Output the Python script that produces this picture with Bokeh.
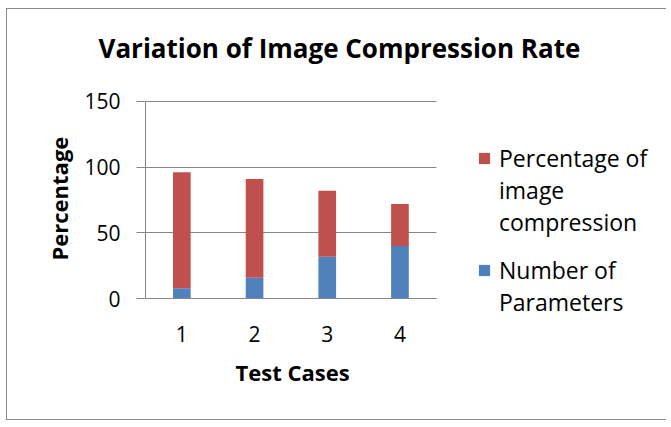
from bokeh.plotting import figure
from bokeh.models import Legend, LegendItem, Title, FixedTicker, Range1d
from bokeh.embed import file_html
from bokeh.resources import INLINE

# ---- data ----
test_cases = [1, 2, 3, 4]
test_case_labels = ["1", "2", "3", "4"]
num_parameters = [8, 16, 32, 40]
pct_compression = [88, 75, 50, 32]
y_ticks = [0, 50, 100, 150]

series = ["num_parameters", "pct_compression"]
colors = ["#4F81BD", "#C0504D"]
data = dict(cases=test_cases, num_parameters=num_parameters, pct_compression=pct_compression)

FONT = "Open Sans"
GRID = "#868686"
cat_lo, cat_hi = test_cases[0] - 0.5, test_cases[-1] + 0.5

p = figure(x_range=Range1d(cat_lo, 7.68), y_range=Range1d(-35.45, 173.3),
           width=660, height=412, output_backend="svg", toolbar_location=None,
           min_border_left=138, min_border_right=0, min_border_top=61, min_border_bottom=76)
p.margin = (8, 0, 0, 6)
p.styles = {"border-left": "1px solid #8a8a8a", "border-top": "1px solid #8a8a8a",
            "border-bottom": "1px solid #8a8a8a"}
p.outline_line_color = None

rs = p.vbar_stack(series, x="cases", width=0.243, color=colors, source=data, line_color=None)
blank = p.scatter(x=[], y=[], alpha=0)

# y axis
p.yaxis.ticker = FixedTicker(ticks=y_ticks)
p.yaxis.bounds = (y_ticks[0], y_ticks[-1])
p.yaxis.axis_line_color = GRID
p.yaxis.major_tick_line_color = GRID
p.yaxis.major_tick_out = 9
p.yaxis.major_tick_in = 0
p.yaxis.minor_tick_line_color = None
p.yaxis.major_label_standoff = 16
p.yaxis.major_label_text_font = FONT
p.yaxis.major_label_text_font_size = "21px"
p.yaxis.major_label_text_color = "#000000"

p.add_layout(Title(text="Percentage", align="left", offset=85, vertical_align="bottom",
                   text_font=FONT, text_font_style="bold", text_font_size="22px",
                   text_color="#000000", standoff=16), "left")

# x axis, fixed at y = 0
p.xaxis.fixed_location = 0
p.xaxis.ticker = FixedTicker(ticks=test_cases)
p.xaxis.major_label_overrides = dict(zip(test_cases, test_case_labels))
p.xaxis.bounds = (cat_lo, cat_hi)
p.xaxis.axis_line_color = GRID
p.xaxis.major_tick_line_color = None
p.xaxis.minor_tick_line_color = None
p.xaxis.major_tick_out = 0
p.xaxis.major_tick_in = 0
p.xaxis.major_label_standoff = 27
p.xaxis.major_label_text_font = FONT
p.xaxis.major_label_text_font_size = "21px"
p.xaxis.major_label_text_color = "#000000"

p.add_layout(Title(text="Test Cases", align="left", offset=90, vertical_align="top",
                   text_font=FONT, text_font_style="bold", text_font_size="22px",
                   text_color="#000000", standoff=23), "below")

p.xgrid.grid_line_color = None
p.ygrid.grid_line_color = GRID
p.ygrid.grid_line_width = 1
p.ygrid.cross_bounds = (cat_lo, cat_hi)

# title
p.title = Title(text="Variation of Image Compression Rate", align="left", offset=-47,
                text_font=FONT, text_font_style="bold", text_font_size="26px",
                text_color="#000000", standoff=10)

common = dict(orientation="vertical", label_text_font=FONT, label_text_font_size="23px",
              label_text_color="#000000", glyph_width=14, glyph_height=14, label_height=32,
              label_standoff=8, spacing=0, padding=0, margin=0,
              border_line_color=None, background_fill_alpha=0)
legend_a = Legend(items=[LegendItem(label="Percentage of", renderers=[rs[1]]),
                         LegendItem(label="image", renderers=[blank]),
                         LegendItem(label="compression", renderers=[blank])],
                  location=(332, 107), **common)
legend_b = Legend(items=[LegendItem(label="Number of", renderers=[rs[0]]),
                         LegendItem(label="Parameters", renderers=[blank])],
                  location=(332, 27), **common)
p.add_layout(legend_a, "center")
p.add_layout(legend_b, "center")

open("out.html", "w").write(file_html(p, INLINE))
